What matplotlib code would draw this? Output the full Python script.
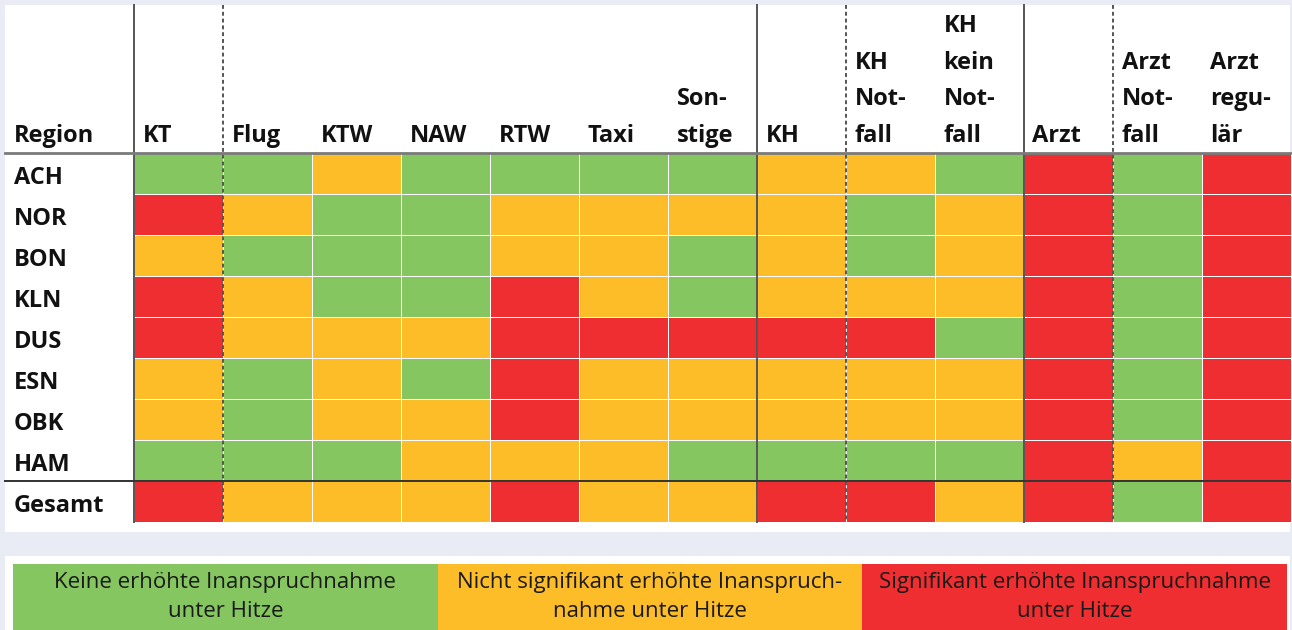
import numpy as np
import matplotlib
matplotlib.use("Agg")
import matplotlib.pyplot as plt
from matplotlib.colors import ListedColormap

# ---- data ----
columns = [["KT"], ["Flug"], ["KTW"], ["NAW"], ["RTW"], ["Taxi"], ["Son-", "stige"],
           ["KH"], ["KH", "Not-", "fall"], ["KH", "kein", "Not-", "fall"], ["Arzt"],
           ["Arzt", "Not-", "fall"], ["Arzt", "regu-", "lär"]]
regions = ["ACH", "NOR", "BON", "KLN", "DUS", "ESN", "OBK", "HAM", "Gesamt"]
# 0 = keine erhöhte, 1 = nicht signifikant erhöht, 2 = signifikant erhöht
status = {
    "ACH":    [0, 0, 1, 0, 0, 0, 0, 1, 1, 0, 2, 0, 2],
    "NOR":    [2, 1, 0, 0, 1, 1, 1, 1, 0, 1, 2, 0, 2],
    "BON":    [1, 0, 0, 0, 1, 1, 0, 1, 0, 1, 2, 0, 2],
    "KLN":    [2, 1, 0, 0, 2, 1, 0, 1, 1, 1, 2, 0, 2],
    "DUS":    [2, 1, 1, 1, 2, 2, 2, 2, 2, 0, 2, 0, 2],
    "ESN":    [1, 0, 1, 0, 2, 1, 1, 1, 1, 1, 2, 0, 2],
    "OBK":    [1, 0, 1, 1, 2, 1, 1, 1, 1, 1, 2, 0, 2],
    "HAM":    [0, 0, 0, 1, 1, 1, 0, 0, 0, 0, 2, 1, 2],
    "Gesamt": [2, 1, 1, 1, 2, 1, 1, 2, 2, 1, 2, 0, 2],
}
legend_labels = ["Keine erhöhte Inanspruchnahme\nunter Hitze",
                 "Nicht signifikant erhöhte Inanspruch-\nnahme unter Hitze",
                 "Signifikant erhöhte Inanspruchnahme\nunter Hitze"]
colors = ["#86C661", "#FDBD29", "#EE2E30"]

# ---- layout ----
W, H = 1292, 630
fig = plt.figure(figsize=(W / 100, H / 100), dpi=100)
fig.patch.set_facecolor("#E9ECF5")
ax = fig.add_axes([0, 0, 1, 1])
ax.set_xlim(0, W)
ax.set_ylim(H, 0)
ax.axis("off")

# white panels
ax.add_patch(plt.Rectangle((5, 5), 1285, 527, facecolor="white", edgecolor="none", zorder=0))
ax.add_patch(plt.Rectangle((5, 556), 1285, 80, facecolor="white", edgecolor="none", zorder=0))

x0, cw = 133.5, 89.0
y0, rh = 152.5, 41.0
ncol, nrow = len(columns), len(regions)
xe = x0 + cw * np.arange(ncol + 1)
ye = y0 + rh * np.arange(nrow + 1)
Z = np.array([status[r] for r in regions])
cmap = ListedColormap(colors)
ax.pcolormesh(xe, ye, Z, cmap=cmap, vmin=-0.5, vmax=2.5, edgecolors="#FFFFFF",
              linewidth=0.5, zorder=1)

# grid lines
top, bottom = 5, ye[-1]
for ci, ls in [(0, "-"), (1, (0, (2, 1.5))), (7, "-"), (8, (0, (2, 1.5))), (10, "-"), (11, (0, (2, 1.5)))]:
    ax.plot([xe[ci], xe[ci]], [top, bottom], color="#555555", lw=1.4, linestyle=ls, zorder=3)
ax.plot([5, 1290], [y0, y0], color="#7A7A7A", lw=2.0, zorder=3)
ax.plot([5, 1290], [ye[8], ye[8]], color="#333333", lw=1.4, zorder=3)

font_b = dict(family=["Open Sans", "DejaVu Sans"], fontweight="bold", fontsize=17, color="#111111")

# header
base = 142
step = 36.7
ax.text(14, base, "Region", ha="left", va="baseline", **font_b)
for ci, lines in enumerate(columns):
    n = len(lines)
    for li, t in enumerate(lines):
        ax.text(xe[ci] + 9, base - step * (n - 1 - li), t, ha="left", va="baseline", **font_b)

# row labels
for ri, r in enumerate(regions):
    ax.text(14, ye[ri] + rh / 2 + 11, r, ha="left", va="baseline", **font_b)

# legend
lx0, lx1 = 13, 1287
lw_ = (lx1 - lx0) / 3
for i, (lab, c) in enumerate(zip(legend_labels, colors)):
    ax.add_patch(plt.Rectangle((lx0 + i * lw_, 564), lw_, 66, facecolor=c, edgecolor="none", zorder=1))
    ax.text(lx0 + i * lw_ + lw_ / 2, 597, lab, ha="center", va="center", family=["Open Sans", "DejaVu Sans"],
            fontsize=16, color="#1A1A1A", linespacing=1.45, zorder=2)

fig.savefig("out.png", dpi=100, facecolor=fig.get_facecolor())
